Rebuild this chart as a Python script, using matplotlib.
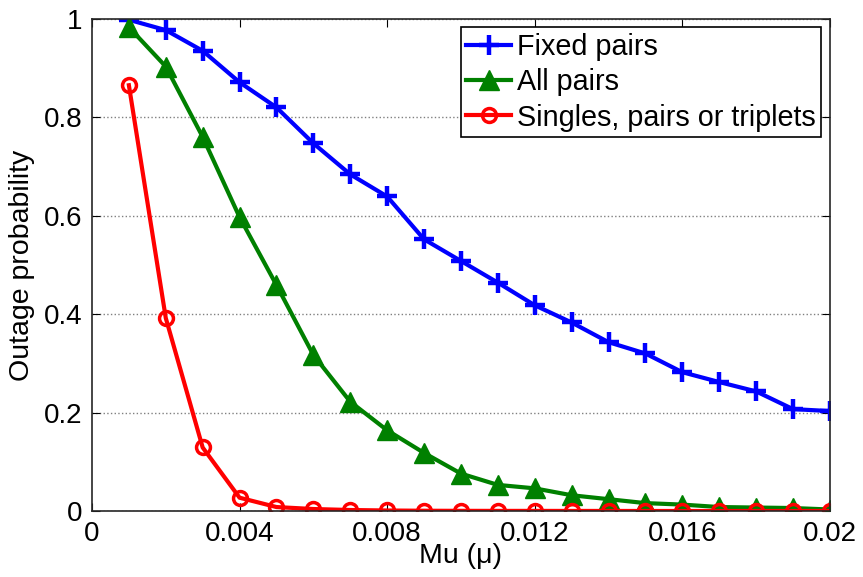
import numpy as np
import matplotlib
matplotlib.use("Agg")
import matplotlib.pyplot as plt

plt.rcParams["font.family"] = ["Liberation Sans", "DejaVu Sans"]

mu = [0.001, 0.002, 0.003, 0.004, 0.005, 0.006, 0.007, 0.008, 0.009, 0.010,
      0.011, 0.012, 0.013, 0.014, 0.015, 0.016, 0.017, 0.018, 0.019, 0.020]

fixed_pairs = [0.998, 0.977, 0.935, 0.871, 0.820, 0.747, 0.684, 0.639, 0.552, 0.508,
               0.464, 0.418, 0.383, 0.343, 0.320, 0.282, 0.262, 0.243, 0.207, 0.203]
all_pairs = [0.983, 0.903, 0.760, 0.597, 0.459, 0.317, 0.222, 0.164, 0.118, 0.076,
             0.053, 0.046, 0.032, 0.024, 0.016, 0.013, 0.008, 0.007, 0.006, 0.003]
singles = [0.865, 0.392, 0.129, 0.027, 0.008, 0.004, 0.002, 0.001, 0.0005, 0.0003,
           0.0002, 0.0002, 0.0001, 0.0001, 0.0, 0.0, 0.0, 0.0, 0.0, 0.0]

labels = ["Fixed pairs", "All pairs", "Singles, pairs or triplets"]

fig = plt.figure(figsize=(8.63, 5.77), dpi=100)
ax = fig.add_axes([0.1066, 0.1144, 0.855, 0.853])

ax.plot(mu, fixed_pairs, color="#0000ff", lw=3, marker="+", ms=15, mew=3.2, label=labels[0])
ax.plot(mu, all_pairs, color="#008000", lw=3, marker="^", ms=14, mew=1, label=labels[1])
ax.plot(mu, singles, color="#ff0000", lw=3, marker="o", ms=10, mew=2.5,
        mfc="none", label=labels[2])

ax.set_xlim(0, 0.02)
ax.set_ylim(0, 1)
ax.set_xticks([0, 0.004, 0.008, 0.012, 0.016, 0.02])
ax.set_xticklabels(["0", "0.004", "0.008", "0.012", "0.016", "0.02"])
ax.set_yticks([0, 0.2, 0.4, 0.6, 0.8, 1])
ax.set_yticklabels(["0", "0.2", "0.4", "0.6", "0.8", "1"])
ax.yaxis.grid(True, linestyle=":", color="#808080", lw=1)
ax.tick_params(direction="in", top=True, right=True, labelsize=20, length=6, pad=7)
for s in ax.spines.values():
    s.set_color("#262626")
    s.set_linewidth(1.2)

ax.set_xlabel("Mu (\u03bc)", fontsize=20.5, labelpad=-3)
ax.set_ylabel("Outage probability", fontsize=20.5, labelpad=6)

leg = ax.legend(loc="upper right", fontsize=20.7, numpoints=1, handlelength=1.55,
                handletextpad=0.2, borderpad=0.2, labelspacing=0.25,
                fancybox=False, framealpha=1, borderaxespad=0.3)
leg.get_frame().set_edgecolor("black")
leg.get_frame().set_linewidth(1.2)

fig.savefig("out.png", dpi=100)
